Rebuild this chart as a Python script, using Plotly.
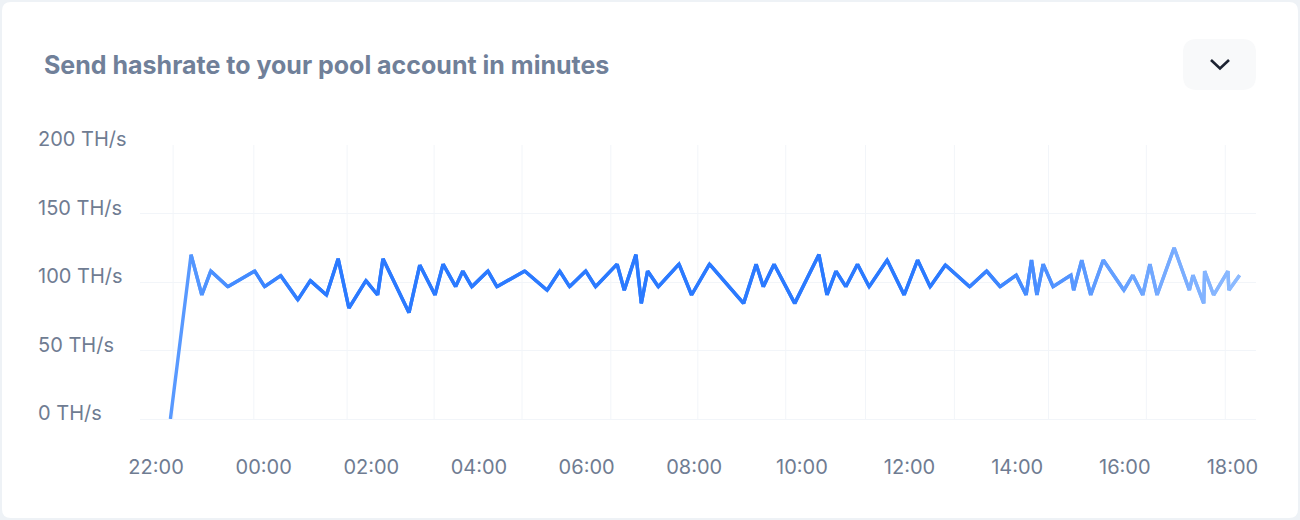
import plotly.graph_objects as go
import pandas as pd

# ---------------- data ----------------
times = [
    "2024-05-01 22:16", "2024-05-01 22:39", "2024-05-01 22:51", "2024-05-01 23:01",
    "2024-05-01 23:20", "2024-05-01 23:50", "2024-05-02 00:01", "2024-05-02 00:19",
    "2024-05-02 00:38", "2024-05-02 00:52", "2024-05-02 01:10", "2024-05-02 01:23",
    "2024-05-02 01:35", "2024-05-02 01:54", "2024-05-02 02:07", "2024-05-02 02:13",
    "2024-05-02 02:42", "2024-05-02 02:54", "2024-05-02 03:11", "2024-05-02 03:20",
    "2024-05-02 03:34", "2024-05-02 03:42", "2024-05-02 03:52", "2024-05-02 04:10",
    "2024-05-02 04:20", "2024-05-02 04:51", "2024-05-02 05:16", "2024-05-02 05:30",
    "2024-05-02 05:41", "2024-05-02 05:59", "2024-05-02 06:10", "2024-05-02 06:34",
    "2024-05-02 06:42", "2024-05-02 06:55", "2024-05-02 07:01", "2024-05-02 07:08",
    "2024-05-02 07:20", "2024-05-02 07:43", "2024-05-02 07:57", "2024-05-02 08:17",
    "2024-05-02 08:55", "2024-05-02 09:09", "2024-05-02 09:17", "2024-05-02 09:29",
    "2024-05-02 09:52", "2024-05-02 10:19", "2024-05-02 10:28", "2024-05-02 10:38",
    "2024-05-02 10:49", "2024-05-02 11:02", "2024-05-02 11:15", "2024-05-02 11:35",
    "2024-05-02 11:54", "2024-05-02 12:09", "2024-05-02 12:23", "2024-05-02 12:40",
    "2024-05-02 13:07", "2024-05-02 13:26", "2024-05-02 13:41", "2024-05-02 13:59",
    "2024-05-02 14:10", "2024-05-02 14:16", "2024-05-02 14:22", "2024-05-02 14:29",
    "2024-05-02 14:40", "2024-05-02 15:00", "2024-05-02 15:03", "2024-05-02 15:12",
    "2024-05-02 15:22", "2024-05-02 15:36", "2024-05-02 15:59", "2024-05-02 16:09",
    "2024-05-02 16:20", "2024-05-02 16:28", "2024-05-02 16:36", "2024-05-02 16:55",
    "2024-05-02 17:12", "2024-05-02 17:16", "2024-05-02 17:28", "2024-05-02 17:29",
    "2024-05-02 17:39", "2024-05-02 17:55", "2024-05-02 17:56", "2024-05-02 18:08",
]

hashrate_ths = [
    0, 120, 90.5, 108, 96.6, 108, 96.6, 104.6, 87, 101, 90.5, 117, 81, 101, 90.5, 117,
    77.6, 112.4, 90.5, 113, 96.6, 108, 96.6, 108, 96.6, 108, 94, 108, 96.6, 108, 96.6,
    113, 94, 120, 84.4, 108, 96.6, 113, 90.5, 113, 84.4, 113, 96.6, 113, 84.4, 120,
    90.5, 108, 96.6, 113, 96.6, 116, 90.5, 116, 96.6, 112.4, 96.6, 108, 96.6, 105,
    90.5, 116, 90.5, 113, 96.6, 105, 94, 116, 90.5, 116, 94, 105, 90.5, 113, 90.5,
    125, 94, 105, 84.4, 108, 90.5, 108, 94, 105,
]

y_ticks = [0, 50, 100, 150, 200]
y_unit = "TH/s"
title_text = "Send hashrate to your pool account in minutes"

# ---------------- layout constants ----------------
W, H = 1300, 520
ML, MR, MT, MB = 140, 44, 145, 101
PW, PH = W - ML - MR, H - MT - MB

x_range = ["2024-05-01 21:42:06", "2024-05-02 18:26:16"]
grid_times = [
    "2024-05-01 22:19", "2024-05-01 23:49", "2024-05-02 01:33", "2024-05-02 03:10",
    "2024-05-02 04:48", "2024-05-02 06:27", "2024-05-02 08:04", "2024-05-02 09:42",
    "2024-05-02 11:11", "2024-05-02 12:50", "2024-05-02 14:35", "2024-05-02 16:24",
    "2024-05-02 17:52",
]

GRID = "#f2f5f9"
LABEL = "#6f7c92"
FONT = "Inter"


def px_x(px):
    return (px - ML) / PW


def px_y(py):
    return (H - MB - py) / PH


def rounded_rect(x0, y0, x1, y1, r):
    pts = [
        ("M", x0 + r, y0), ("L", x1 - r, y0), ("Q", x1, y0, x1, y0 + r),
        ("L", x1, y1 - r), ("Q", x1, y1, x1 - r, y1), ("L", x0 + r, y1),
        ("Q", x0, y1, x0, y1 - r), ("L", x0, y0 + r), ("Q", x0, y0, x0 + r, y0),
    ]
    out = []
    for p in pts:
        cmd = p[0]
        coords = p[1:]
        s = []
        for i in range(0, len(coords), 2):
            s.append(f"{px_x(coords[i]):.5f},{px_y(coords[i + 1]):.5f}")
        out.append(cmd + " ".join(s))
    return " ".join(out) + " Z"


# gradient colour along the line
stops = [(0.0, (92, 156, 255)), (0.13, (43, 122, 255)), (0.72, (43, 122, 255)), (1.0, (142, 187, 255))]


def grad(t):
    for (t0, c0), (t1, c1) in zip(stops[:-1], stops[1:]):
        if t <= t1:
            f = 0 if t1 == t0 else (t - t0) / (t1 - t0)
            return "rgb(%d,%d,%d)" % tuple(round(a + (b - a) * f) for a, b in zip(c0, c1))
    return "rgb(%d,%d,%d)" % stops[-1][1]


ts = pd.to_datetime(pd.Series(times))
span = (ts.iloc[-1] - ts.iloc[0]).total_seconds()

fig = go.Figure()
n = len(times)
for i in range(n - 1):
    mid = ((ts.iloc[i] - ts.iloc[0]).total_seconds() + (ts.iloc[i + 1] - ts.iloc[0]).total_seconds()) / 2
    t = mid / span
    j = min(i + 3, n)
    fig.add_trace(go.Scatter(
        x=times[i:j], y=hashrate_ths[i:j], mode="lines",
        line=dict(color=grad(t), width=3.4),
        hoverinfo="skip", showlegend=False,
    ))

shapes = []
# card
shapes.append(dict(type="path", xref="paper", yref="paper", layer="below",
                   path=rounded_rect(2, 2, 1298, 518, 9),
                   fillcolor="#ffffff", line=dict(width=0)))
# dropdown button
shapes.append(dict(type="path", xref="paper", yref="paper", layer="below",
                   path=rounded_rect(1183, 39, 1256, 90, 14),
                   fillcolor="#f8f9fa", line=dict(width=0)))
shapes.append(dict(type="path", xref="paper", yref="paper", layer="above",
                   path=f"M{px_x(1211):.5f},{px_y(60):.5f} L{px_x(1220):.5f},{px_y(68.5):.5f} L{px_x(1229):.5f},{px_y(60):.5f}",
                   line=dict(color="#1c2231", width=2.6)))
# vertical grid lines
for gt in grid_times:
    shapes.append(dict(type="line", xref="x", yref="paper", layer="below",
                       x0=gt, x1=gt, y0=0, y1=1, line=dict(color=GRID, width=1)))

annotations = [dict(
    text=f"<b>{title_text}</b>", xref="paper", yref="paper",
    x=px_x(42), y=px_y(64.5), xanchor="left", yanchor="middle", showarrow=False,
    font=dict(family=FONT, size=25, color="#708099"),
)]
for v in y_ticks:
    annotations.append(dict(
        text=f"{v} {y_unit}", xref="paper", yref="y", x=px_x(36), y=v,
        xanchor="left", yanchor="middle", yshift=6, showarrow=False,
        font=dict(family=FONT, size=20, color=LABEL),
    ))

fig.update_layout(
    width=W, height=H,
    margin=dict(l=ML, r=MR, t=MT, b=MB, pad=0),
    paper_bgcolor="#eef2f6", plot_bgcolor="rgba(0,0,0,0)",
    shapes=shapes, annotations=annotations,
    showlegend=False,
    xaxis=dict(
        type="date", range=x_range, showgrid=False, zeroline=False, showline=False,
        tickformat="%H:%M", dtick=2 * 3600 * 1000, tick0="2024-05-02 00:00",
        ticks="", ticklabelstandoff=34,
        tickfont=dict(family=FONT, size=20, color=LABEL),
    ),
    yaxis=dict(
        range=[0, 200], tickvals=y_ticks, showticklabels=False,
        showgrid=True, gridcolor=GRID, gridwidth=1,
        zeroline=True, zerolinecolor=GRID, zerolinewidth=1, showline=False,
    ),
)

fig.write_html(
    "out.html",
    config={"displayModeBar": False},
    post_script="document.body.style.margin='0px';document.body.style.padding='0px';",
)
